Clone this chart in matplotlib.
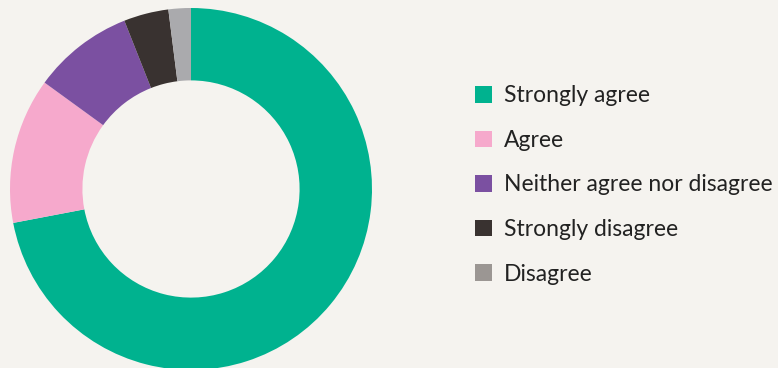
import matplotlib.pyplot as plt
from matplotlib.patches import Patch

# Survey responses (percent of respondents), in legend order
labels = ["Strongly agree", "Agree", "Neither agree nor disagree",
          "Strongly disagree", "Disagree"]
shares = [72, 13, 9, 4, 2]
colors = ["#00B28F", "#F6A9CC", "#7B50A1", "#393230", "#AAAAAD"]
legend_colors = ["#00B28F", "#F6A9CC", "#7B50A1", "#393230", "#9B9693"]

bg = "#F5F3EF"
plt.rcParams["font.family"] = ["Lato", "DejaVu Sans"]

fig = plt.figure(figsize=(7.78, 3.68), dpi=100, facecolor=bg)
W, H = 778, 368
cx, cy, r = 191, 189, 181
ax = fig.add_axes([(cx - r) / W, (H - cy - r) / H, 2 * r / W, 2 * r / H])
ax.set_facecolor(bg)

ax.pie(shares, colors=colors, startangle=90, counterclock=False,
       radius=1.0, wedgeprops=dict(width=0.40, linewidth=0))
ax.set_xlim(-1, 1)
ax.set_ylim(-1, 1)
ax.set_aspect("equal")
ax.axis("off")

handles = [Patch(facecolor=c, edgecolor="none") for c in legend_colors]
fig.legend(handles, labels, loc="center left",
           bbox_to_anchor=(466 / W, (H - 185) / H), frameon=False,
           fontsize=16.5, labelcolor="#222222",
           handlelength=0.74, handleheight=0.74, handletextpad=0.5,
           labelspacing=1.03, borderaxespad=0)

fig.savefig("out.png", dpi=100, facecolor=bg)
